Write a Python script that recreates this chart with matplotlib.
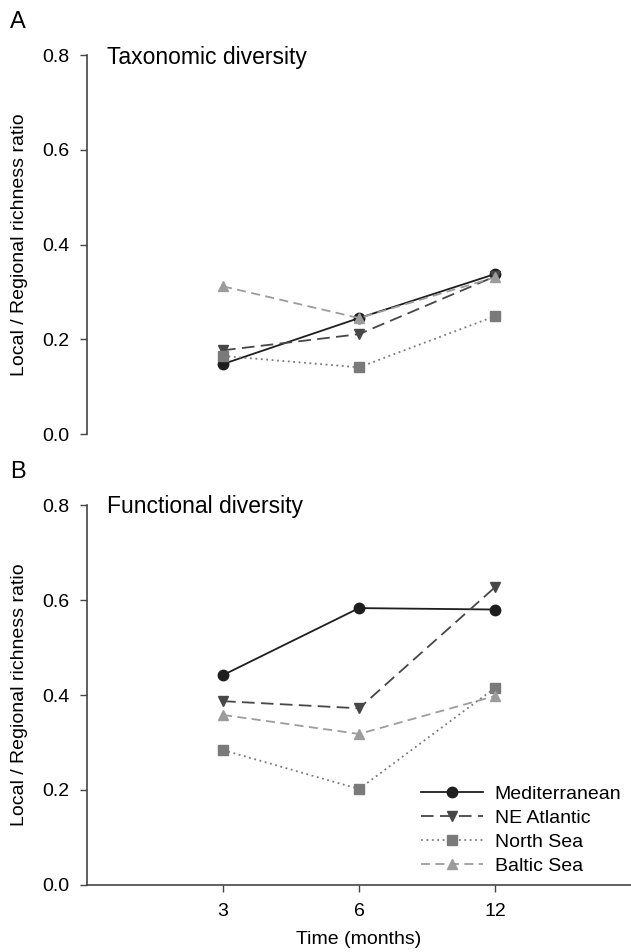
import numpy as np
import matplotlib
matplotlib.use("Agg")
import matplotlib.pyplot as plt

plt.rcParams['font.family'] = ['Liberation Sans', 'DejaVu Sans']

months = ["3", "6", "12"]
regions = ["Mediterranean", "NE Atlantic", "North Sea", "Baltic Sea"]

# taxonomic diversity (panel A)
tax_med = [0.148, 0.245, 0.338]
tax_nea = [0.177, 0.211, 0.333]
tax_ns = [0.165, 0.141, 0.249]
tax_bs = [0.312, 0.245, 0.331]

# functional diversity (panel B)
fun_med = [0.442, 0.583, 0.580]
fun_nea = [0.387, 0.372, 0.627]
fun_ns = [0.284, 0.202, 0.415]
fun_bs = [0.358, 0.318, 0.398]

styles = [
    dict(color="#1e1e1e", ls="-", marker="o", ms=7.5),
    dict(color="#474747", ls=(0, (7, 3.5)), marker="v", ms=7.5),
    dict(color="#7a7a7a", ls=(0, (1, 2)), marker="s", ms=6.5),
    dict(color="#9c9c9c", ls=(0, (5, 3)), marker="^", ms=7.5),
]

x = np.arange(1, 4)

fig = plt.figure(figsize=(6.31, 9.52), dpi=100)
axA = fig.add_axes([0.138, 0.544, 0.862, 0.398])
axB = fig.add_axes([0.138, 0.0704, 0.862, 0.3991])

def style_ax(ax, bottom):
    ax.set_xlim(0, 4)
    ax.set_ylim(0, 0.8)
    ax.set_yticks([0, 0.2, 0.4, 0.6, 0.8])
    ax.set_yticklabels(["0.0", "0.2", "0.4", "0.6", "0.8"])
    ax.spines["top"].set_visible(False)
    ax.spines["right"].set_visible(False)
    ax.spines["left"].set_color("#444444")
    ax.spines["left"].set_linewidth(1.2)
    ax.tick_params(axis="y", direction="out", length=5, width=1, colors="#444444",
                   labelcolor="black", labelsize=14, pad=8)
    ax.set_ylabel("Local / Regional richness ratio", fontsize=14, labelpad=10)
    if bottom:
        ax.spines["bottom"].set_color("#444444")
        ax.spines["bottom"].set_linewidth(1.2)
        ax.set_xticks(x)
        ax.set_xticklabels(months)
        ax.tick_params(axis="x", direction="out", length=5, width=1, colors="#444444",
                       labelcolor="black", labelsize=14, pad=8)
        ax.set_xlabel("Time (months)", fontsize=14, labelpad=8)
    else:
        ax.spines["bottom"].set_visible(False)
        ax.set_xticks([])

for data, st, name in zip([tax_med, tax_nea, tax_ns, tax_bs], styles, regions):
    axA.plot(x, data, linestyle=st["ls"], color=st["color"], marker=st["marker"],
             markersize=st["ms"], lw=1.3, label=name, clip_on=False)
for data, st, name in zip([fun_med, fun_nea, fun_ns, fun_bs], styles, regions):
    axB.plot(x, data, linestyle=st["ls"], color=st["color"], marker=st["marker"],
             markersize=st["ms"], lw=1.3, label=name, clip_on=False)

style_ax(axA, False)
style_ax(axB, True)

axA.text(0.147, 0.781, "Taxonomic diversity", fontsize=16.5, va="baseline")
axB.text(0.147, 0.783, "Functional diversity", fontsize=16.5, va="baseline")

fig.text(0.016, 0.9706, "A", fontsize=17, va="baseline")
fig.text(0.016, 0.498, "B", fontsize=17, va="baseline")

axB.legend(loc="lower right", bbox_to_anchor=(1.0, 0.0), frameon=False,
           fontsize=14, handlelength=3.2, handletextpad=0.6, labelspacing=0.34,
           borderaxespad=0.1)

fig.savefig("out.png", dpi=100)
